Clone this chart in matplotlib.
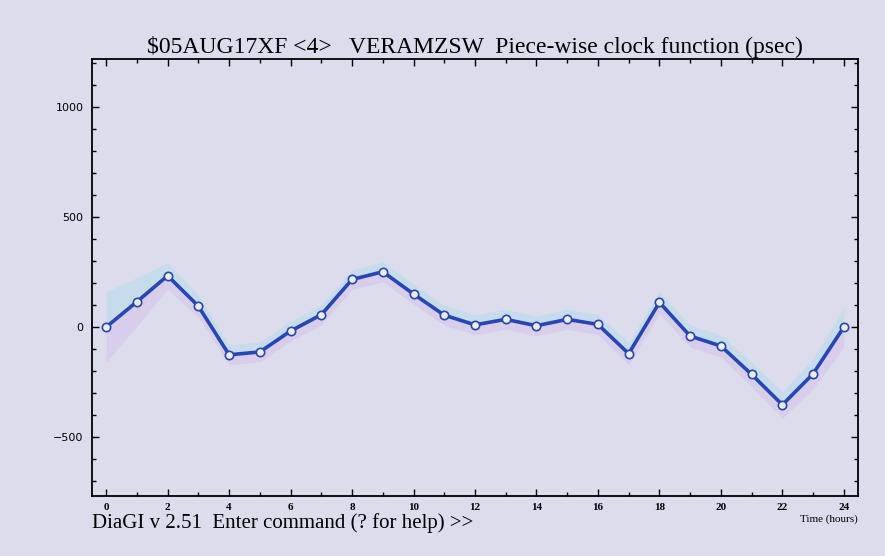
import matplotlib
matplotlib.use("Agg")
import matplotlib.pyplot as plt
from matplotlib.ticker import MultipleLocator

hours = list(range(25))
clock = [0, 115, 233, 95, -126, -113, -18, 56, 216, 251, 150, 54, 10, 35, 6, 35, 12,
         -121, 112, -41, -86, -215, -353, -212, 0]
err = [160, 110, 60, 50, 45, 45, 45, 45, 45, 45, 45, 45, 45, 45, 45, 45, 45,
       50, 50, 50, 50, 55, 60, 70, 90]
xticks = list(range(0, 25, 2))
yticks = [-500, 0, 500, 1000]
title = "$05AUG17XF <4>   VERAMZSW  Piece-wise clock function (psec)"

bg = "#dcdcec"
fig = plt.figure(figsize=(8.85, 5.56), dpi=100, facecolor=bg)
ax = fig.add_axes([92/885, 60/556, 766/885, 437/556], facecolor=bg)

up = [c + e for c, e in zip(clock, err)]
lo = [c - e for c, e in zip(clock, err)]
ax.fill_between(hours, clock, up, color="#c6dcec", lw=0, zorder=1)
ax.fill_between(hours, lo, clock, color="#d8cdea", lw=0, zorder=1)
ax.plot(hours, clock, color="#2646b6", lw=2.6, zorder=3,
        marker="o", ms=6, mfc="#eeeedc", mec="#2646b6", mew=1.2)

ax.set_xlim(-0.46, 24.46)
ax.set_ylim(-767, 1217)
ax.set_xticks(xticks)
ax.set_yticks(yticks)
ax.xaxis.set_minor_locator(MultipleLocator(1))
ax.yaxis.set_minor_locator(MultipleLocator(100))
ax.tick_params(which="both", direction="in", top=True, right=True, color="black", width=1)
ax.tick_params(which="major", length=5)
ax.tick_params(which="minor", length=3)
ax.tick_params(axis="x", labelsize=8, pad=5)
ax.tick_params(axis="y", labelsize=8, pad=6)
for lab in ax.get_xticklabels():
    lab.set_family("Liberation Serif")
    lab.set_fontweight("bold")
for s in ax.spines.values():
    s.set_linewidth(1.3)

fig.text(475/885, 1 - 47/556, title, ha="center", va="center",
         fontsize=17, family="Liberation Serif")
fig.text(92/885, 1 - 523/556, "DiaGI v 2.51  Enter command (? for help) >>",
         ha="left", va="center", fontsize=15, family="Liberation Serif")
fig.text(858/885, 1 - 519/556, "Time (hours)", ha="right", va="center",
         fontsize=8, family="Liberation Serif")

fig.savefig("out.png", dpi=100, facecolor=bg)
